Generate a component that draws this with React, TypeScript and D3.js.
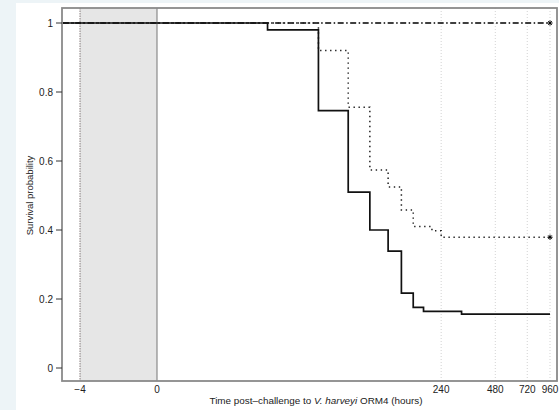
import React from "react";
import * as d3 from "d3";

// survival curves (time in hours, KM step values)
const solidTimes = [-4.9, 21, 46, 70, 94, 120, 143, 167, 191, 312, 960];
const solidSurv = [1, 0.98, 0.746, 0.51, 0.4, 0.339, 0.217, 0.176, 0.164, 0.156, 0.156];

const dottedTimes = [-4.9, 46, 70, 94, 120, 143, 167, 213, 240, 960];
const dottedSurv = [1, 0.92, 0.756, 0.574, 0.525, 0.458, 0.41, 0.398, 0.379, 0.379];

const dashTimes = [-4.9, 960];
const dashSurv = [1, 1];

const yTicks = [0, 0.2, 0.4, 0.6, 0.8, 1];
const xTicksPre = [-4, 0];
const xTicksPost = [240, 480, 720, 960];
const gridTimes = [240, 480, 720, 960];
const shadeRange = [-4, 0];

const W = 559, H = 410;
const plot = { left: 62, right: 557, top: 8, bottom: 381 };
const font = "'Liberation Sans', Arial, Helvetica, sans-serif";

// pre-challenge segment is linear, after challenge a log(t + 7) axis
const xPre = d3.scaleLinear().domain([-4, 0]).range([80, 157]);
const xPost = d3.scaleLog().domain([7, 967]).range([157, 550]);
const x = (t: number) => (t < 0 ? xPre(t) : xPost(t + 7));
const y = d3.scaleLinear().domain([0, 1]).range([368, 23]);

const stepLine = d3
  .line<[number, number]>()
  .x((d) => x(d[0]))
  .y((d) => y(d[1]))
  .curve(d3.curveStepAfter);

const zip = (ts: number[], vs: number[]) => ts.map((t, i) => [t, vs[i]] as [number, number]);

function Censor({ t, s }: { t: number; s: number }) {
  const cx = x(t), cy = y(s), r = 2.6;
  return (
    <g stroke="#000" strokeWidth={1}>
      <line x1={cx - r} x2={cx + r} y1={cy} y2={cy} />
      <line x1={cx} x2={cx} y1={cy - r} y2={cy + r} />
      <line x1={cx - r * 0.7} x2={cx + r * 0.7} y1={cy - r * 0.7} y2={cy + r * 0.7} />
      <line x1={cx - r * 0.7} x2={cx + r * 0.7} y1={cy + r * 0.7} y2={cy - r * 0.7} />
    </g>
  );
}

export default function App() {
  const dotEnd = dottedTimes.length - 1;
  return (
    <svg width={W} height={H} style={{ position: "absolute", left: 0, top: 0 }} fontFamily={font}>
      <rect width={W} height={H} fill="#edf4f7" />
      <rect x={16} y={3} width={W - 16} height={H - 3} fill="#fff" />

      {/* shaded pre-challenge window */}
      <rect
        x={x(shadeRange[0])}
        y={plot.top}
        width={x(shadeRange[1]) - x(shadeRange[0])}
        height={plot.bottom - plot.top}
        fill="#e6e6e6"
      />
      <line x1={x(shadeRange[0])} x2={x(shadeRange[0])} y1={plot.top} y2={plot.bottom}
        stroke="#6b5e5e" strokeWidth={0.8} strokeDasharray="1.5,1" />
      <line x1={x(shadeRange[1])} x2={x(shadeRange[1])} y1={plot.top} y2={plot.bottom}
        stroke="#777" strokeWidth={1} />

      {/* grid */}
      {gridTimes.map((t) => (
        <line key={t} x1={x(t)} x2={x(t)} y1={plot.top} y2={plot.bottom}
          stroke="#c8c8c8" strokeWidth={0.8} strokeDasharray="1,2" />
      ))}

      {/* curves */}
      <path d={stepLine(zip(dashTimes, dashSurv)) || ""} fill="none" stroke="#000"
        strokeWidth={1.6} strokeDasharray="6,2.5,1.5,2.5" />
      <path d={stepLine(zip(dottedTimes, dottedSurv)) || ""} fill="none" stroke="#222"
        strokeWidth={1.5} strokeDasharray="1.4,3.6" />
      <path d={stepLine(zip(solidTimes, solidSurv)) || ""} fill="none" stroke="#111"
        strokeWidth={1.7} />
      <Censor t={dashTimes[1]} s={dashSurv[1]} />
      <Censor t={dottedTimes[dotEnd]} s={dottedSurv[dotEnd]} />

      {/* frame */}
      <rect x={plot.left} y={plot.top} width={plot.right - plot.left} height={plot.bottom - plot.top}
        fill="none" stroke="#8a8a8a" strokeWidth={1.8} />

      {/* y axis */}
      {yTicks.map((v) => (
        <g key={v}>
          <line x1={plot.left - 6} x2={plot.left} y1={y(v)} y2={y(v)} stroke="#333" strokeWidth={1} />
          <text x={plot.left - 9} y={y(v) + 3.5} fontSize={10} textAnchor="end" fill="#222">
            {v}
          </text>
        </g>
      ))}
      <text transform={`translate(33,${(y(0) + y(1)) / 2}) rotate(-90)`} fontSize={9.5}
        textAnchor="middle" fill="#222">
        Survival probability
      </text>

      {/* x axis labels */}
      {[...xTicksPre, ...xTicksPost].map((t) => (
        <text key={t} x={x(t)} y={393} fontSize={10} textAnchor="middle" fill="#222">
          {t < 0 ? `\u2212${Math.abs(t)}` : t}
        </text>
      ))}
      <text x={316} y={404} fontSize={9.9} textAnchor="middle" fill="#222">
        Time post{"\u2013"}challenge to <tspan fontStyle="italic">V. harveyi</tspan> ORM4 (hours)
      </text>
    </svg>
  );
}
